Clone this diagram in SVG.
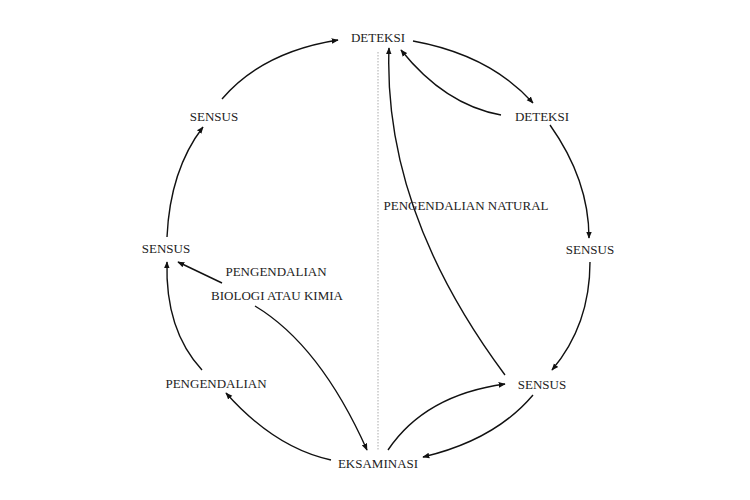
<svg xmlns="http://www.w3.org/2000/svg" width="750" height="500" viewBox="0 0 750 500">
<style>
text{font-family:"Liberation Serif","Times New Roman",serif;font-size:13px;fill:#222;text-anchor:middle}
.c path{fill:none;stroke:#111;stroke-width:1.4;marker-end:url(#ah)}
</style>
<defs>
<marker id="ah" viewBox="0 0 10 10" refX="9" refY="5" markerWidth="7" markerHeight="7" markerUnits="userSpaceOnUse" orient="auto">
<path d="M0,1 L10,5 L0,9 Z" fill="#111"/>
</marker>
</defs>
<rect width="750" height="500" fill="#fff"/>
<line x1="378" y1="52" x2="378" y2="451" stroke="#aaa" stroke-width="1" stroke-dasharray="1.5,1.5"/>
<g class="c">
<path d="M222,99 Q262,52 338,40"/>
<path d="M413,41 Q490,55 533,103"/>
<path d="M501,115 Q445,105 401,50"/>
<path d="M505,375 Q383,211 389,48"/>
<path d="M550,125 Q589,180 589,238"/>
<path d="M590,262 Q590,325 552,370"/>
<path d="M533,395 Q495,440 423,457"/>
<path d="M388,450 Q425,395 505,384"/>
<path d="M255,306 Q320,345 367,450"/>
<path d="M222,283 L178,262"/>
<path d="M331,460 Q275,448 226,393"/>
<path d="M202,370 Q165,330 167,262"/>
<path d="M167,237 Q170,170 203,127"/>
</g>
<g id="n-deteksi-top"><text x="378" y="42">DETEKSI</text></g>
<g id="n-deteksi-right"><text x="542" y="121">DETEKSI</text></g>
<g id="n-sensus-right"><text x="590" y="254">SENSUS</text></g>
<g id="n-sensus-br"><text x="542" y="389">SENSUS</text></g>
<g id="n-eksaminasi"><text x="378" y="468">EKSAMINASI</text></g>
<g id="n-pengendalian-left"><text x="216" y="388">PENGENDALIAN</text></g>
<g id="n-sensus-left"><text x="166" y="253">SENSUS</text></g>
<g id="n-sensus-ul"><text x="214" y="121">SENSUS</text></g>
<g id="n-biokimia"><text x="276" y="276">PENGENDALIAN</text><text x="277" y="300">BIOLOGI ATAU KIMIA</text></g>
<g id="n-natural"><text x="466" y="210">PENGENDALIAN NATURAL</text></g>
</svg>
